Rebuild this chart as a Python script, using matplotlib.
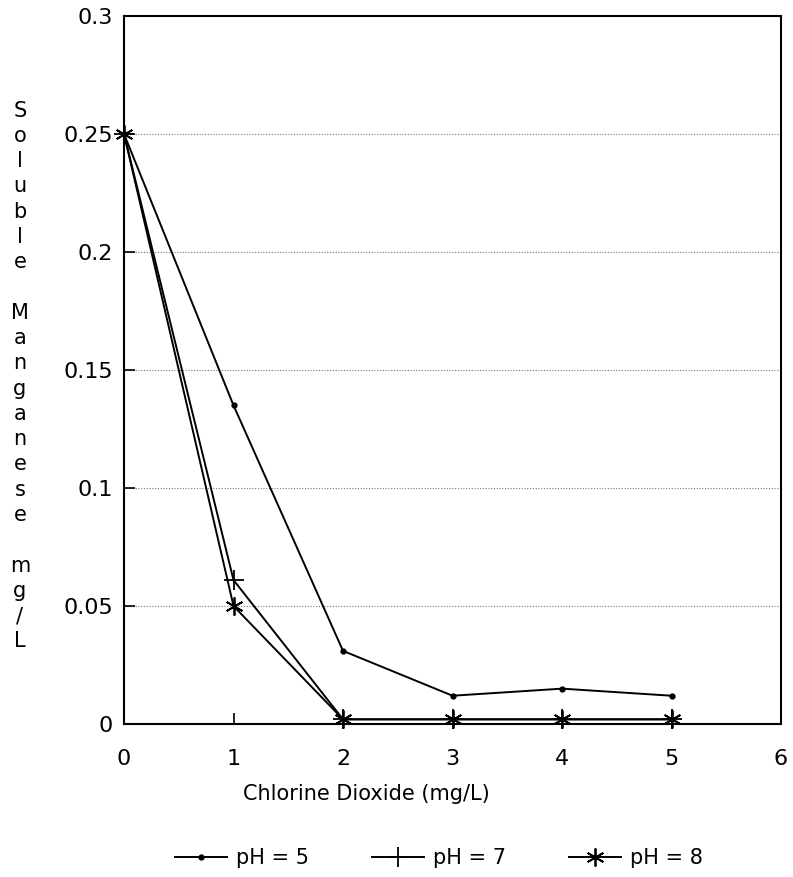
import matplotlib
matplotlib.use("Agg")
import matplotlib.pyplot as plt

dose = [0, 1, 2, 3, 4, 5]
ph5 = [0.25, 0.135, 0.031, 0.012, 0.015, 0.012]
ph7 = [0.25, 0.061, 0.002, 0.002, 0.002, 0.002]
ph8 = [0.25, 0.050, 0.002, 0.002, 0.002, 0.002]
xticks = [0, 1, 2, 3, 4, 5, 6]
yticks = [0, 0.05, 0.1, 0.15, 0.2, 0.25, 0.3]
yticklabels = ["0", "0.05", "0.1", "0.15", "0.2", "0.25", "0.3"]

plt.rcParams['font.family'] = ['DejaVu Sans']

fig = plt.figure(figsize=(7.93, 8.77), dpi=100)
ax = fig.add_axes([0.1564, 0.1744, 0.8285, 0.8074])

ax.plot(dose, ph5, color='black', lw=1.4, marker='o', ms=3.5, label='pH = 5', clip_on=False, zorder=3)
ax.plot(dose, ph7, color='black', lw=1.4, marker='+', ms=15, mew=1.3, label='pH = 7', clip_on=False, zorder=3)
ax.plot(dose, ph8, color='black', lw=1.4, marker=(6, 2, 0), ms=13, mew=1.3, label='pH = 8', clip_on=False, zorder=3)

ax.set_xlim(0, 6)
ax.set_ylim(0, 0.3)
ax.set_xticks(xticks)
ax.set_yticks(yticks)
ax.set_yticklabels(yticklabels)
for y in yticks[1:-1]:
    ax.axhline(y, color='#777777', lw=0.8, ls=(0, (1, 1.5)), zorder=0)

ax.tick_params(axis='both', direction='in', length=8, width=1.2, labelsize=16)
ax.tick_params(axis='x', pad=18)
ax.tick_params(axis='y', pad=8)
for s in ax.spines.values():
    s.set_linewidth(1.5)

fig.text(366 / 793, 1 - 794 / 877, 'Chlorine Dioxide (mg/L)', ha='center', va='center', fontsize=15)

ylabel = "Soluble Manganese mg/L"
stacked = "\n".join(ylabel)
fig.text(20 / 793, 1 - 376 / 877, stacked, ha='center', va='center', fontsize=15, linespacing=1.33)

fig.legend(loc='center', bbox_to_anchor=(439 / 793, 1 - 858 / 877), ncol=3, frameon=False,
           fontsize=15, handlelength=2.5, columnspacing=3.0, handletextpad=0.45)

fig.savefig('out.png', dpi=100)
